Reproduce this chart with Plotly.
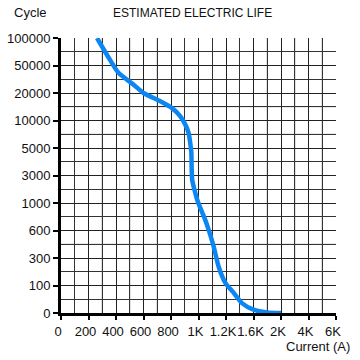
import numpy as np
import plotly.graph_objects as go

# Axis tick values (non-linear, evenly spaced on chart)
x_tick_vals = [0, 200, 400, 600, 800, 1000, 1200, 1600, 2000, 4000, 6000]
x_tick_text = ["0", "200", "400", "600", "800", "1K", "1.2K", "1.6K", "2K", "4K", "6K"]
y_tick_vals = [0, 100, 300, 600, 1000, 3000, 5000, 10000, 20000, 50000, 100000]
y_tick_text = [str(v) for v in y_tick_vals]

# Curve: current (A) vs cycles
current = [262, 334, 418, 528, 600, 722, 808, 868, 904, 928, 940, 948, 950, 954,
           970, 990, 1018, 1044, 1074, 1110, 1146, 1194, 1312, 1432, 1600, 1796, 2000]
cycles = [100000, 69500, 42000, 29000, 20000, 17000, 14500, 11500, 9250, 7750, 5900,
          4640, 3660, 2700, 1980, 1260, 904, 780, 609, 426, 238, 121, 73, 36, 12, 2, 0]

# grey (lighter) minor grid positions, in tick-index units
grey_x_minor = [1.5, 2.5, 3.5, 7.5, 8.5, 9.5]
grey_y_minor = [2.5, 6.5, 7.5]

idx = np.arange(len(x_tick_vals))
xs = np.interp(current, x_tick_vals, idx)
ys = np.interp(cycles, y_tick_vals, np.arange(len(y_tick_vals)))

fig = go.Figure()
fig.add_trace(go.Scatter(x=xs, y=ys, mode="lines",
                         line=dict(color="#0b86f2", width=4.5, shape="spline", smoothing=0.6),
                         hoverinfo="skip", showlegend=False, cliponaxis=False))

L, R, T, B = 61, 24, 38, 47
W = 360 - L - R
H = 360 - T - B

def px2paper_x(px):
    return (px - L) / W

def px2paper_y(py):
    return (360 - B - py) / H

shapes = []
for gx in grey_x_minor:
    shapes.append(dict(type="line", xref="x", yref="paper", x0=gx, x1=gx, y0=0, y1=1,
                       line=dict(color="#a8a8a8", width=1.2), layer="between"))
for gy in grey_y_minor:
    shapes.append(dict(type="line", xref="paper", yref="y", x0=0, x1=1, y0=gy, y1=gy,
                       line=dict(color="#a8a8a8", width=1.2), layer="between"))

font = "Liberation Sans, Arial, sans-serif"
fig.update_layout(
    width=360, height=360,
    margin=dict(l=L, r=R, t=T, b=B),
    paper_bgcolor="white", plot_bgcolor="white",
    font=dict(family=font, size=13, color="#111"),
    shapes=shapes,
    xaxis=dict(range=[0, 10], tickmode="array", tickvals=list(idx), ticktext=x_tick_text,
               tickangle=0, automargin=False,
               showgrid=True, gridcolor="#222", gridwidth=1.4,
               minor=dict(dtick=0.5, tick0=0, showgrid=True, gridcolor="#333", gridwidth=1, ticklen=0),
               showline=True, linecolor="black", linewidth=3,
               ticks="outside", ticklen=4, tickwidth=2, tickcolor="black",
               ticklabelshift=-3, zeroline=False, fixedrange=True),
    yaxis=dict(range=[0, 10], tickmode="array", tickvals=list(range(len(y_tick_vals))), ticktext=y_tick_text,
               automargin=False,
               showgrid=True, gridcolor="#222", gridwidth=1.4,
               minor=dict(dtick=0.5, tick0=0, showgrid=True, gridcolor="#333", gridwidth=1, ticklen=0),
               showline=True, linecolor="black", linewidth=3,
               ticks="outside", ticklen=5, tickwidth=2, tickcolor="black",
               zeroline=False, fixedrange=True),
    annotations=[
        dict(text="ESTIMATED ELECTRIC LIFE", xref="paper", yref="paper",
             x=px2paper_x(192.5), y=px2paper_y(13.5), showarrow=False,
             xanchor="center", yanchor="middle", font=dict(size=12)),
        dict(text="Cycle", xref="paper", yref="paper",
             x=px2paper_x(30), y=px2paper_y(12), showarrow=False,
             xanchor="center", yanchor="middle", font=dict(size=13)),
        dict(text="Current (A)", xref="paper", yref="paper",
             x=px2paper_x(352), y=px2paper_y(346.5), showarrow=False,
             xanchor="right", yanchor="middle", font=dict(size=13)),
    ],
)

fig.write_html("out.html", config={"displayModeBar": False},
               post_script="document.body.style.margin='0';document.body.style.overflow='hidden';")
